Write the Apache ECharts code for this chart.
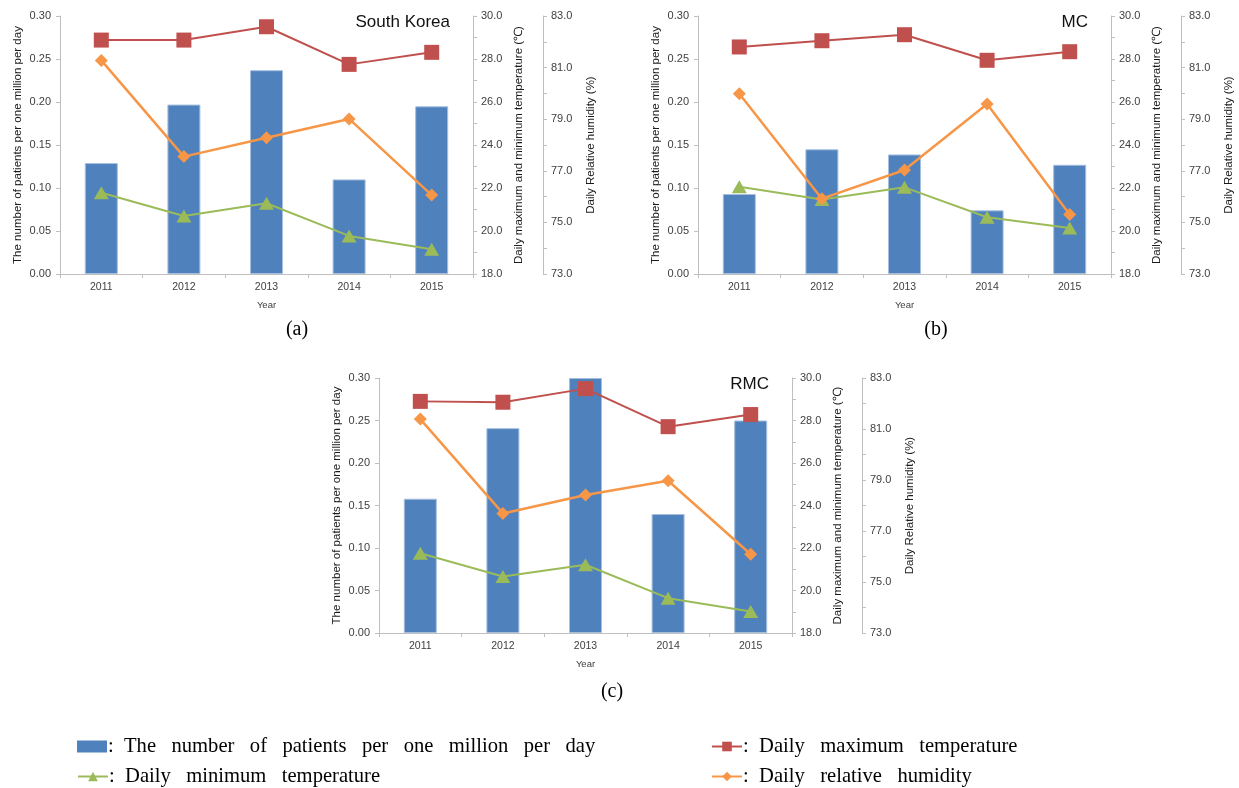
<!DOCTYPE html>
<html>
<head>
<meta charset="utf-8">
<script src="https://cdn.jsdelivr.net/npm/echarts@6/dist/echarts.min.js"></script>
<style>
  html, body { margin: 0; padding: 0; background: #ffffff; }
  #chart { width: 1239px; height: 788px; }
</style>
</head>
<body>
<div id="chart"></div>
<script>
// Categories
const years = ['2011', '2012', '2013', '2014', '2015'];

// South Korea
const krPatients = [0.129, 0.197, 0.237, 0.110, 0.195];
const krMaxTemp  = [28.88, 28.88, 29.50, 27.75, 28.31];
const krMinTemp  = [21.78, 20.70, 21.29, 19.77, 19.15];
const krHumidity = [81.28, 77.55, 78.28, 79.01, 76.06];

// MC
const mcPatients = [0.093, 0.145, 0.139, 0.074, 0.127];
const mcMaxTemp  = [28.56, 28.85, 29.13, 27.94, 28.34];
const mcMinTemp  = [22.06, 21.47, 22.03, 20.64, 20.14];
const mcHumidity = [79.99, 75.92, 77.03, 79.59, 75.31];

// RMC
const rmcPatients = [0.158, 0.241, 0.300, 0.140, 0.250];
const rmcMaxTemp  = [28.90, 28.86, 29.50, 27.71, 28.28];
const rmcMinTemp  = [21.75, 20.66, 21.21, 19.64, 19.01];
const rmcHumidity = [81.39, 77.69, 78.41, 78.97, 76.09];

// Axis ranges (tick labels)
const patientAxis  = { min: 0,  max: 0.30, step: 0.05 };
const tempAxis     = { min: 18, max: 30,   step: 1 };   // labelled every 2
const humidityAxis = { min: 73, max: 83,   step: 1 };   // labelled every 2

const NAME_PATIENTS = 'The number of patients per one million per day';
const NAME_MAX = 'Daily maximum temperature';
const NAME_MIN = 'Daily minimum temperature';
const NAME_HUM = 'Daily relative humidity';

const panels = [
  { title: 'South Korea', caption: '(a)', patients: krPatients, maxT: krMaxTemp, minT: krMinTemp, hum: krHumidity,
    grid: { left: 60, top: 16, width: 413, height: 258 }, titleX: 450, titleY: 22, capX: 297, capY: 330 },
  { title: 'MC', caption: '(b)', patients: mcPatients, maxT: mcMaxTemp, minT: mcMinTemp, hum: mcHumidity,
    grid: { left: 698, top: 16, width: 413, height: 258 }, titleX: 1088, titleY: 22, capX: 936, capY: 330 },
  { title: 'RMC', caption: '(c)', patients: rmcPatients, maxT: rmcMaxTemp, minT: rmcMinTemp, hum: rmcHumidity,
    grid: { left: 379, top: 378, width: 413, height: 255 }, titleX: 769, titleY: 384, capX: 612, capY: 692 }
];

const AXIS_COLOR = '#BFBFBF';
const LABEL_COLOR = '#404040';
const NAME_COLOR = '#1a1a1a';
const SANS = 'Liberation Sans';
const SERIF = 'Liberation Serif';

const COLOR_BAR = '#4F81BD';
const COLOR_MAX = '#C0504D';
const COLOR_MIN = '#9BBB59';
const COLOR_HUM = '#F79646';

const grids = [], xAxes = [], yAxes = [], series = [], graphics = [];

panels.forEach((p, i) => {
  grids.push(Object.assign({ containLabel: false }, p.grid));

  xAxes.push({
    type: 'category', gridIndex: i, data: years,
    name: 'Year', nameLocation: 'middle', nameGap: 26,
    nameTextStyle: { fontFamily: SANS, fontSize: 9.5, color: LABEL_COLOR },
    axisLine: { lineStyle: { color: AXIS_COLOR, width: 1 } },
    axisTick: { show: true, alignWithLabel: false, length: 4, lineStyle: { color: AXIS_COLOR } },
    axisLabel: { fontFamily: SANS, fontSize: 10.5, color: LABEL_COLOR, margin: 8 },
    splitLine: { show: false }
  });

  // left: patients
  yAxes.push({
    type: 'value', gridIndex: i, position: 'left',
    min: patientAxis.min, max: patientAxis.max, interval: patientAxis.step,
    name: NAME_PATIENTS, nameLocation: 'middle', nameRotate: 90, nameGap: 36,
    nameTextStyle: { fontFamily: SANS, fontSize: 11.5, color: NAME_COLOR },
    axisLine: { show: true, lineStyle: { color: AXIS_COLOR } },
    axisTick: { show: true, length: 4, lineStyle: { color: AXIS_COLOR } },
    axisLabel: { fontFamily: SANS, fontSize: 11, color: LABEL_COLOR, margin: 9,
      formatter: v => v.toFixed(2) },
    splitLine: { show: false }
  });

  // right: temperature
  yAxes.push({
    type: 'value', gridIndex: i, position: 'right', offset: 0,
    min: tempAxis.min, max: tempAxis.max, interval: tempAxis.step,
    name: 'Daily maximum and minimum temperature (\u2103)', nameLocation: 'middle', nameRotate: 90, nameGap: 40,
    nameTextStyle: { fontFamily: SANS, fontSize: 11.5, color: NAME_COLOR },
    axisLine: { show: true, lineStyle: { color: AXIS_COLOR } },
    axisTick: { show: true, length: 4, lineStyle: { color: AXIS_COLOR } },
    axisLabel: { fontFamily: SANS, fontSize: 11, color: LABEL_COLOR, margin: 8,
      formatter: v => (Math.round(v) % 2 === 0 ? v.toFixed(1) : '') },
    splitLine: { show: false }
  });

  // right, offset: relative humidity
  yAxes.push({
    type: 'value', gridIndex: i, position: 'right', offset: 70,
    min: humidityAxis.min, max: humidityAxis.max, interval: humidityAxis.step,
    name: 'Daily Relative humidity (%)', nameLocation: 'middle', nameRotate: 90, nameGap: 42,
    nameTextStyle: { fontFamily: SANS, fontSize: 11.5, color: NAME_COLOR },
    axisLine: { show: true, lineStyle: { color: AXIS_COLOR } },
    axisTick: { show: true, length: 4, lineStyle: { color: AXIS_COLOR } },
    axisLabel: { fontFamily: SANS, fontSize: 11, color: LABEL_COLOR, margin: 8,
      formatter: v => (Math.round(v) % 2 === 1 ? v.toFixed(1) : '') },
    splitLine: { show: false }
  });

  const yBase = i * 3;
  series.push({
    name: NAME_PATIENTS, type: 'bar', xAxisIndex: i, yAxisIndex: yBase,
    data: p.patients, barWidth: 33,
    itemStyle: { color: COLOR_BAR, borderColor: '#A7BFDE', borderWidth: 1 }
  });
  series.push({
    name: NAME_MAX, type: 'line', xAxisIndex: i, yAxisIndex: yBase + 1,
    data: p.maxT, symbol: 'rect', symbolSize: 15,
    lineStyle: { color: COLOR_MAX, width: 2 }, itemStyle: { color: COLOR_MAX }
  });
  series.push({
    name: NAME_MIN, type: 'line', xAxisIndex: i, yAxisIndex: yBase + 1,
    data: p.minT, symbol: 'triangle', symbolSize: [15, 13],
    lineStyle: { color: COLOR_MIN, width: 2 }, itemStyle: { color: COLOR_MIN }
  });
  series.push({
    name: NAME_HUM, type: 'line', xAxisIndex: i, yAxisIndex: yBase + 2,
    data: p.hum, symbol: 'diamond', symbolSize: 13,
    lineStyle: { color: COLOR_HUM, width: 2.5 }, itemStyle: { color: COLOR_HUM }
  });

  graphics.push({
    type: 'text', x: p.titleX, y: p.titleY,
    style: { text: p.title, fill: '#111', font: '17px "' + SANS + '"', textAlign: 'right', textVerticalAlign: 'middle' }
  });
  graphics.push({
    type: 'text', x: p.capX, y: p.capY,
    style: { text: p.caption, fill: '#000', font: '20px "' + SERIF + '"', textAlign: 'center', textVerticalAlign: 'middle' }
  });
});

// Legend entries, written with wide word spacing
const spaced = s => ':  ' + s.split(' ').join('   ');
const legendBase = {
  orient: 'horizontal', itemWidth: 30, itemHeight: 12, itemGap: 0, selectedMode: false,
  textStyle: { fontFamily: SERIF, fontSize: 20.6, color: '#000', padding: [0, 0, 0, -4] },
  formatter: spaced
};
const legends = [
  Object.assign({}, legendBase, {
    data: [{ name: NAME_PATIENTS, icon: 'rect', itemStyle: { borderWidth: 0 } }], left: 72, top: 731 }),
  Object.assign({}, legendBase, { data: [NAME_MIN], left: 72, top: 761 }),
  Object.assign({}, legendBase, { data: [NAME_MAX], left: 706, top: 731 }),
  Object.assign({}, legendBase, { data: [NAME_HUM], left: 706, top: 761 })
];

const chart = echarts.init(document.getElementById('chart'), null, { renderer: 'canvas' });
chart.setOption({
  animation: false,
  backgroundColor: '#ffffff',
  grid: grids,
  xAxis: xAxes,
  yAxis: yAxes,
  series: series,
  legend: legends,
  graphic: graphics
});
</script>
</body>
</html>
